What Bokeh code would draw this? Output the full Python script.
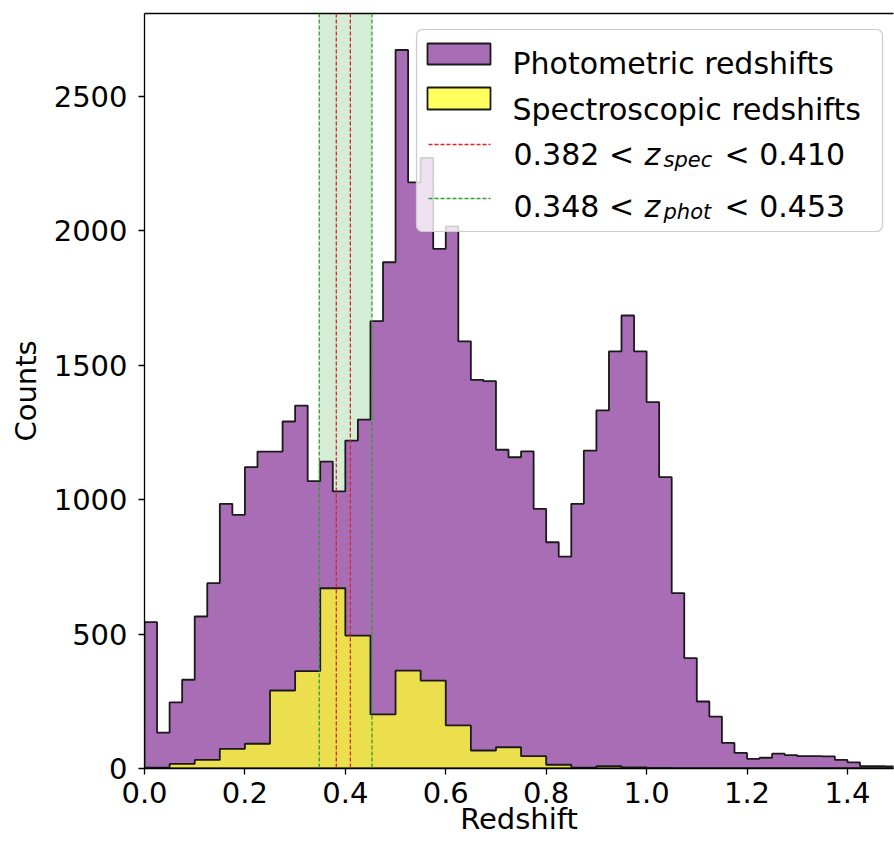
import numpy as np
from bokeh.plotting import figure
from bokeh.models import (Range1d, FixedTicker, PrintfTickFormatter, Span,
                          BoxAnnotation, Label, Arrow, LinearAxis)
from bokeh.embed import file_html
from bokeh.resources import INLINE

# ---------------- data ----------------
phot_bin_width = 0.025
phot_counts = [544, 133, 246, 330, 565, 689, 984, 943, 1120, 1178,
               1178, 1290, 1349, 1068, 1141, 1030, 1219, 1297, 1663, 1882,
               2671, 2179, 2270, 1932, 2015, 1588, 1445, 1440, 1185, 1157,
               1179, 965, 841, 788, 984, 1182, 1331, 1551, 1684, 1551,
               1362, 1083, 652, 410, 249, 193, 95, 58, 36, 40,
               55, 50, 46, 46, 45, 32, 23, 9, 9, 8]
spec_bin_width = 0.05
spec_counts = [3, 17, 32, 73, 92, 290, 362, 670, 494, 201,
               364, 327, 160, 67, 79, 46, 14, 3, 9, 4,
               1, 0, 0, 0, 0, 0, 0, 0, 0, 0]
zspec_range = [0.382, 0.410]
zphot_range = [0.348, 0.453]
x_ticks = [0.0, 0.2, 0.4, 0.6, 0.8, 1.0, 1.2, 1.4]
y_ticks = [0, 500, 1000, 1500, 2000, 2500]
series_labels = ["Photometric redshifts", "Spectroscopic redshifts"]

# ---------------- styling / layout ----------------
PURPLE = "#a96db5"
YELLOW = "#ffff30"
YELLOW_ALPHA = 0.78
RED = "#d62728"
GREEN = "#2ca02c"
EDGE = "#1a1a1a"
FONT = "DejaVu Sans"

W, H = 894, 842
FL, FR, FT, FB = 144, 893, 13, 768
PX_PER_X = 502.1            # pixels per redshift unit
PX_PER_Y = 134.5 / 500.0    # pixels per count
X_END = (FR - FL) / PX_PER_X
Y_END = (FB - FT) / PX_PER_Y


def dx(px):
    return (px - FL) / PX_PER_X


def dy(py):
    return (FB - py) / PX_PER_Y


def step_outline(width, counts):
    edges = np.arange(len(counts) + 1) * width
    xs, ys = [edges[0]], [0]
    for i, c in enumerate(counts):
        xs += [edges[i], edges[i + 1]]
        ys += [c, c]
    xs.append(edges[-1])
    ys.append(0)
    return xs, ys


p = figure(width=W, height=H, output_backend="svg", toolbar_location=None,
           x_range=Range1d(0, X_END), y_range=Range1d(0, Y_END),
           min_border_left=FL, min_border_right=W - FR,
           min_border_top=FT, min_border_bottom=H - FB)
p.xgrid.visible = False
p.ygrid.visible = False
p.outline_line_color = None
p.background_fill_color = "white"
p.border_fill_color = "white"

# shaded photometric window (under the histograms)
p.add_layout(BoxAnnotation(left=zphot_range[0], right=zphot_range[1],
                           fill_color=GREEN, fill_alpha=0.2,
                           line_color=None, level="underlay"))

# histograms
xs, ys = step_outline(phot_bin_width, phot_counts)
p.patch(xs, ys, fill_color=PURPLE, fill_alpha=1.0,
        line_color=EDGE, line_width=1.8)
xs, ys = step_outline(spec_bin_width, spec_counts)
p.patch(xs, ys, fill_color=YELLOW, fill_alpha=YELLOW_ALPHA,
        line_color=EDGE, line_width=1.8)

# dashed limits
for loc in zspec_range:
    p.add_layout(Span(location=loc, dimension="height", line_color=RED,
                      line_dash="4 2", line_width=1.3))
for loc in zphot_range:
    p.add_layout(Span(location=loc, dimension="height", line_color=GREEN,
                      line_dash="4 2", line_width=1.3))

# axes
for ax in (p.xaxis[0], p.yaxis[0]):
    ax.axis_line_color = "black"
    ax.axis_line_width = 1.3
    ax.major_tick_line_color = "black"
    ax.major_tick_line_width = 1.3
    ax.major_tick_in = 0
    ax.major_tick_out = 6
    ax.minor_tick_line_color = None
    ax.major_label_text_font = FONT
    ax.major_label_text_font_size = "29px"
    ax.major_label_text_color = "black"
    ax.axis_label_text_font = FONT
    ax.axis_label_text_font_size = "29px"
    ax.axis_label_text_font_style = "normal"
    ax.axis_label_text_color = "black"

p.xaxis.ticker = FixedTicker(ticks=x_ticks)
p.xaxis.formatter = PrintfTickFormatter(format="%.1f")
p.xaxis.axis_label = "Redshift"
p.xaxis.major_label_standoff = 7
p.xaxis.axis_label_standoff = -4

p.yaxis.ticker = FixedTicker(ticks=y_ticks)
p.yaxis.formatter = PrintfTickFormatter(format="%d")
p.yaxis.axis_label = "Counts"
p.yaxis.major_label_standoff = 11
p.yaxis.axis_label_standoff = 8

top_axis = LinearAxis(ticker=FixedTicker(ticks=[]), axis_line_color="black",
                      axis_line_width=1.3, major_tick_line_color=None,
                      minor_tick_line_color=None,
                      major_label_text_font_size="0px")
p.add_layout(top_axis, "above")

# ---------------- legend (drawn by hand for the sub-scripted labels) ----------------
p.add_layout(BoxAnnotation(left=dx(416), right=dx(882), top=dy(29), bottom=dy(231),
                           fill_color="white", fill_alpha=0.8,
                           line_color="#cccccc", line_alpha=1.0, line_width=1.2,
                           border_radius=6))
p.add_layout(BoxAnnotation(left=dx(427), right=dx(490), top=dy(43), bottom=dy(64),
                           fill_color=PURPLE, fill_alpha=1.0,
                           line_color=EDGE, line_alpha=1.0, line_width=1.8))
p.add_layout(BoxAnnotation(left=dx(427), right=dx(490), top=dy(87), bottom=dy(109),
                           fill_color=YELLOW, fill_alpha=YELLOW_ALPHA,
                           line_color=EDGE, line_alpha=1.0, line_width=1.8))
p.add_layout(Arrow(end=None, x_start=dx(428), x_end=dx(490), y_start=dy(144),
                   y_end=dy(144), line_color=RED, line_dash="4 2", line_width=1.3))
p.add_layout(Arrow(end=None, x_start=dx(428), x_end=dx(490), y_start=dy(198),
                   y_end=dy(198), line_color=GREEN, line_dash="4 2", line_width=1.3))


def legend_text(text, px, py, size="30px", style="normal"):
    p.add_layout(Label(x=dx(px), y=dy(py), text=text, text_font=FONT,
                       text_font_size=size, text_font_style=style,
                       text_color="black", text_align="left",
                       text_baseline="alphabetic"))


legend_text(series_labels[0], 512, 63)
legend_text(series_labels[1], 512, 109)

rows = [(zspec_range, "spec", 154), (zphot_range, "phot", 206)]
for (lo, hi), sub, base in rows:
    legend_text(f"{lo:.3f} <", 513, base)
    legend_text("z", 644, base, style="italic")
    legend_text(sub, 663, base + 5, size="21px", style="italic")
    legend_text(f"< {hi:.3f}", 724, base)

open("out.html", "w").write(file_html(p, INLINE))
